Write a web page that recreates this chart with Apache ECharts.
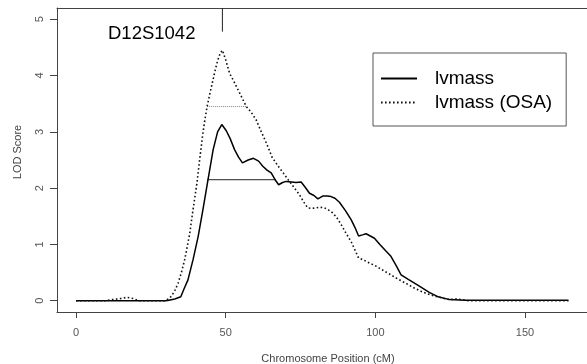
<!DOCTYPE html>
<html>
<head>
<meta charset="utf-8">
<script src="https://cdn.jsdelivr.net/npm/echarts@6/dist/echarts.min.js"></script>
<style>html,body{margin:0;padding:0;background:#fff}#c{width:587px;height:364px}</style>
</head>
<body>
<div id="c"></div>
<script>
// ---- data ----
const xTicks = [0, 50, 100, 150];
const yTicks = [0, 1, 2, 3, 4, 5];
const seriesNames = ['lvmass', 'lvmass (OSA)'];
const markerName = 'D12S1042';
const markerPos = 48.9;
const markerTop = 5.2;
const markerBottom = 4.78;

const lvmassX = [0,5,10,15,20,25,30,31,33,35,36,37.4,39.1,40.8,42.4,44.1,45.8,47.3,48.7,50.2,51.5,53,54.3,55.6,57.5,59.3,61,62.4,63.8,65.2,66.5,67.7,69,70.2,72,73.5,75.2,76.5,78,79.5,80.8,82.4,84,85.2,86.5,88,90,91.9,93.2,94.4,95.7,96.9,98.3,99.7,101.5,103.6,105.2,107,108.6,111,114.7,118,121,124.7,130,140,150,160,164.5];
const lvmassY = [0,0,0,0,0,0,0,0.01,0.03,0.07,0.2,0.37,0.73,1.14,1.62,2.15,2.68,3.0,3.13,3.02,2.88,2.68,2.55,2.45,2.5,2.53,2.48,2.39,2.32,2.27,2.15,2.06,2.1,2.12,2.11,2.1,2.11,2.02,1.91,1.87,1.81,1.86,1.86,1.85,1.82,1.75,1.6,1.44,1.3,1.15,1.17,1.19,1.15,1.11,1.0,0.88,0.79,0.62,0.46,0.38,0.26,0.15,0.07,0.02,0.01,0.01,0.01,0.01,0.01];

const osaX = [0,10,12,15,17,19,21,25,30,31.9,33,34.1,35.2,36.3,37.2,38,39.1,40.4,41.3,42.2,43,43.8,44.8,45.8,46.6,47.4,48.2,48.9,50,51.3,52.7,54.1,55.5,56.9,58.5,60.2,61.9,63.6,65.5,67.4,69.1,71.3,73,74.7,76,77.4,78.8,80.2,81.6,83,84.4,85.8,87.2,88.6,90.2,91.9,93.2,94.4,96.2,98,99.7,101.3,103.2,105.2,107.7,110.2,112.5,114.7,117,120,123,125,127,129,131,140,150,164.5];
const osaY = [0,0,0.02,0.04,0.06,0.04,0,0,0,0.08,0.18,0.31,0.5,0.73,0.97,1.2,1.62,2.09,2.5,2.9,3.2,3.45,3.7,3.93,4.12,4.28,4.4,4.45,4.28,4.04,3.9,3.75,3.6,3.45,3.35,3.21,3.0,2.8,2.55,2.4,2.28,2.12,2.0,1.88,1.76,1.65,1.64,1.65,1.66,1.65,1.61,1.56,1.47,1.35,1.2,1.05,0.9,0.76,0.72,0.67,0.63,0.58,0.52,0.46,0.38,0.31,0.24,0.18,0.13,0.08,0.04,0.02,0.03,0.02,0,0,0,0];

// support-interval lines
const lvmassIntervalX = [43.8, 66.8];
const lvmassIntervalY = 2.15;
const osaIntervalX = [43.8, 56.9];
const osaIntervalY = 3.45;

const pairs = (xs, ys) => xs.map((x, i) => [x, ys[i]]);
const FONT = "'Liberation Sans', Arial, sans-serif";

const chart = echarts.init(document.getElementById('c'), null, {renderer: 'canvas'});
chart.setOption({
  animation: false,
  backgroundColor: '#fff',
  title: {
    text: markerName,
    left: 108, top: 24, padding: 0,
    textStyle: {fontFamily: FONT, fontSize: 18.5, fontWeight: 'normal', color: '#000'}
  },
  legend: {
    data: seriesNames,
    orient: 'vertical',
    left: 373, top: 53,
    padding: [16, 14, 14, 7],
    itemWidth: 36, itemHeight: 20, itemGap: 5,
    itemStyle: {opacity: 0},
    borderColor: '#555', borderWidth: 1, borderRadius: 0,
    textStyle: {fontFamily: FONT, fontSize: 19, color: '#000', padding: [0, 0, 0, 13]}
  },
  grid: {left: 57, top: 8, right: 0, bottom: 52, containLabel: false, outerBoundsMode: 'none'},
  xAxis: [{
    type: 'value', min: -6.35, max: 170.7,
    name: 'Chromosome Position (cM)', nameLocation: 'middle', nameGap: 41,
    nameTextStyle: {fontFamily: FONT, fontSize: 11, color: '#444', padding: [0, 0, 0, 12]},
    axisLine: {show: true, onZero: false, lineStyle: {color: '#444', width: 1}},
    axisTick: {show: true, length: 6, inside: false, customValues: xTicks, lineStyle: {color: '#444'}},
    axisLabel: {customValues: xTicks, margin: 15, fontFamily: FONT, fontSize: 11, color: '#555'},
    splitLine: {show: false}
  }, {
    type: 'value', min: -6.35, max: 170.7, position: 'top',
    axisLine: {show: true, onZero: false, lineStyle: {color: '#444', width: 1}},
    axisTick: {show: false}, axisLabel: {show: false}, splitLine: {show: false}
  }],
  yAxis: {
    type: 'value', min: -0.2, max: 5.2,
    name: 'LOD Score', nameLocation: 'middle', nameGap: 34,
    nameTextStyle: {fontFamily: FONT, fontSize: 11, color: '#444', padding: [0, 0, 0, 16]},
    axisLine: {show: true, onZero: false, lineStyle: {color: '#444', width: 1}},
    axisTick: {show: true, length: 7, inside: false, customValues: yTicks, lineStyle: {color: '#444'}},
    axisLabel: {customValues: yTicks, rotate: 90, margin: 12, fontFamily: FONT, fontSize: 11, color: '#555'},
    splitLine: {show: false}
  },
  series: [
    {
      name: seriesNames[0], type: 'line', symbol: 'none', silent: true,
      data: pairs(lvmassX, lvmassY),
      lineStyle: {color: '#000', width: 1.5, type: 'solid'},
      itemStyle: {color: '#000'}, z: 3
    },
    {
      name: seriesNames[1], type: 'line', symbol: 'none', silent: true,
      data: pairs(osaX, osaY),
      lineStyle: {color: '#111', width: 1.6, type: [1.6, 2.4]},
      itemStyle: {color: '#000'}, z: 3
    },
    {
      name: 'marker', type: 'line', symbol: 'none', silent: true,
      data: [[markerPos, markerTop], [markerPos, markerBottom]],
      lineStyle: {color: '#222', width: 1}, z: 2
    },
    {
      name: 'lvmass interval', type: 'line', symbol: 'none', silent: true,
      data: lvmassIntervalX.map(x => [x, lvmassIntervalY]),
      lineStyle: {color: '#222', width: 1}, z: 2
    },
    {
      name: 'osa interval', type: 'line', symbol: 'none', silent: true,
      data: osaIntervalX.map(x => [x, osaIntervalY]),
      lineStyle: {color: '#888', width: 1, type: [1, 1]}, z: 2
    }
  ]
});
</script>
</body>
</html>
